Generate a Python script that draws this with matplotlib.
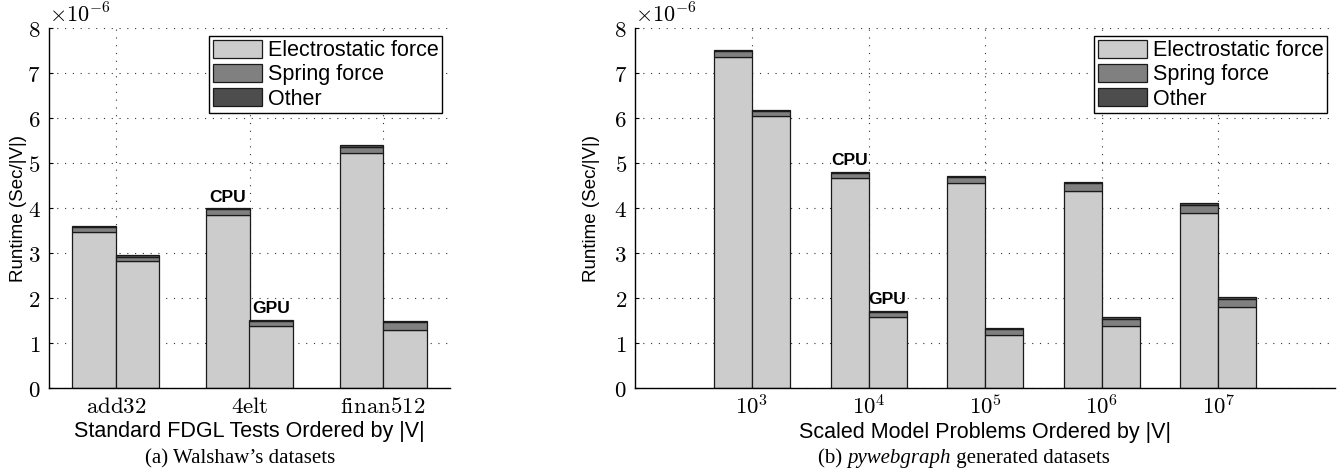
import matplotlib
matplotlib.use('Agg')
import matplotlib.pyplot as plt
from matplotlib.ticker import FuncFormatter, MultipleLocator
import numpy as np

plt.rcParams['font.family'] = 'Liberation Sans'
plt.rcParams['mathtext.fontset'] = 'cm'

# values in units of 1e-6 sec/|V|
walshaw_names = ['add32', '4elt', 'finan512']
walshaw_cpu_elec = [3.48, 3.84, 5.22]
walshaw_cpu_spring = [0.09, 0.13, 0.15]
walshaw_cpu_other = [0.03, 0.03, 0.03]
walshaw_gpu_elec = [2.82, 1.37, 1.30]
walshaw_gpu_spring = [0.10, 0.12, 0.16]
walshaw_gpu_other = [0.03, 0.03, 0.03]

model_names = ['3', '4', '5', '6', '7']
model_cpu_elec = [7.37, 4.68, 4.56, 4.38, 3.90]
model_cpu_spring = [0.12, 0.10, 0.13, 0.17, 0.18]
model_cpu_other = [0.03, 0.03, 0.03, 0.03, 0.03]
model_gpu_elec = [6.04, 1.58, 1.18, 1.37, 1.80]
model_gpu_spring = [0.11, 0.10, 0.13, 0.16, 0.19]
model_gpu_other = [0.03, 0.04, 0.03, 0.04, 0.03]

legend_labels = ['Electrostatic force', 'Spring force', 'Other']
seg_colors = ['#cccccc', '#808080', '#4d4d4d']

W = 0.326
EDGE = '#1a1a1a'
LBL = 15.5


def stacked(ax, xs, elec, spring, other):
    elec = np.array(elec)
    spring = np.array(spring)
    other = np.array(other)
    b1 = ax.bar(xs, elec, W, color=seg_colors[0], edgecolor=EDGE, linewidth=0.9, zorder=2)
    b2 = ax.bar(xs, spring, W, bottom=elec, color=seg_colors[1], edgecolor=EDGE, linewidth=0.9, zorder=2)
    b3 = ax.bar(xs, other, W, bottom=elec + spring, color=seg_colors[2], edgecolor=EDGE, linewidth=0.9, zorder=2)
    return [b1, b2, b3], elec + spring + other


def setup(ax, n, xmin, xmax):
    ax.set_xlim(xmin, xmax)
    ax.set_ylim(0, 8)
    ax.yaxis.set_major_locator(MultipleLocator(1))
    ax.yaxis.set_major_formatter(FuncFormatter(lambda v, p: '$%d$' % v))
    ax.set_xticks(np.arange(1, n + 1))
    for s in ['top', 'right']:
        ax.spines[s].set_visible(False)
    for s in ['left', 'bottom']:
        ax.spines[s].set_linewidth(1.0)
    ax.grid(True, linestyle=(0, (1, 6)), color='#333333', linewidth=0.8)
    ax.set_axisbelow(True)
    ax.tick_params(axis='y', direction='in', length=3, labelsize=16.5, pad=6)
    ax.tick_params(axis='x', direction='in', length=0, labelsize=16.5, pad=5)
    ax.text(0.0, 1.003, r'$\times10^{-6}$', transform=ax.transAxes, fontsize=16,
            ha='left', va='bottom')
    ax.set_ylabel('Runtime (Sec/|V|)', fontsize=13.5)


def add_legend(ax, bars):
    leg = ax.legend([b[0] for b in bars], legend_labels, loc='upper right', fontsize=LBL,
                    fancybox=False, edgecolor='black', framealpha=1, borderpad=0.18,
                    labelspacing=0.12, handlelength=2.3, handleheight=0.93, handletextpad=0.25,
                    borderaxespad=0.35)
    leg.get_frame().set_linewidth(1.0)


fig = plt.figure(figsize=(13.41, 4.74), dpi=100)
ax1 = fig.add_axes([49 / 1341, 1 - 388 / 474, 401 / 1341, 359.7 / 474])
ax2 = fig.add_axes([635.3 / 1341, 1 - 388 / 474, 699.7 / 1341, 359.7 / 474])

# (a) Walshaw
x = np.arange(1, len(walshaw_names) + 1)
setup(ax1, len(walshaw_names), 0.5, len(walshaw_names) + 0.5)
bars, cpu_tot = stacked(ax1, x - W / 2, walshaw_cpu_elec, walshaw_cpu_spring, walshaw_cpu_other)
_, gpu_tot = stacked(ax1, x + W / 2, walshaw_gpu_elec, walshaw_gpu_spring, walshaw_gpu_other)
ax1.set_xticklabels([r'$\mathrm{%s}$' % n for n in walshaw_names])
ax1.set_xlabel('Standard FDGL Tests Ordered by |V|', fontsize=LBL, labelpad=2)
ax1.yaxis.set_label_coords(-0.055, 0.5)
ax1.text(x[1] - W / 2, cpu_tot[1] + 0.08, 'CPU', ha='center', va='bottom', fontsize=12.5, fontweight='bold')
ax1.text(x[1] + W / 2, gpu_tot[1] + 0.08, 'GPU', ha='center', va='bottom', fontsize=12.5, fontweight='bold')
add_legend(ax1, bars)

# (b) pywebgraph
x = np.arange(1, len(model_names) + 1)
setup(ax2, len(model_names), 0, len(model_names) + 1)
bars, cpu_tot = stacked(ax2, x - W / 2, model_cpu_elec, model_cpu_spring, model_cpu_other)
_, gpu_tot = stacked(ax2, x + W / 2, model_gpu_elec, model_gpu_spring, model_gpu_other)
ax2.set_xticklabels([r'$10^{%s}$' % n for n in model_names])
ax2.set_xlabel('Scaled Model Problems Ordered by |V|', fontsize=LBL, labelpad=2)
ax2.yaxis.set_label_coords(-0.05, 0.5)
ax2.text(x[1] - W / 2, cpu_tot[1] + 0.08, 'CPU', ha='center', va='bottom', fontsize=12.5, fontweight='bold')
ax2.text(x[1] + W / 2, gpu_tot[1] + 0.08, 'GPU', ha='center', va='bottom', fontsize=12.5, fontweight='bold')
add_legend(ax2, bars)

# captions
CAP = 15
base_y = 1 - 463 / 474
fig.text(240 / 1341, base_y, "(a) Walshaw\u2019s datasets", family='Liberation Serif',
         fontsize=CAP, ha='center', va='baseline')
c1 = fig.text(818 / 1341, base_y, '(b) ', family='Liberation Serif', fontsize=CAP,
              ha='left', va='baseline')
c2 = fig.text(0, base_y, 'pywebgraph', family='Liberation Serif', style='italic', fontsize=CAP,
              ha='left', va='baseline')
c3 = fig.text(0, base_y, ' generated datasets', family='Liberation Serif', fontsize=CAP,
              ha='left', va='baseline')
fig.canvas.draw()
r = fig.canvas.get_renderer()
fig_w = fig.bbox.width
bb1 = c1.get_window_extent(r)
c2.set_x(bb1.x1 / fig_w)
fig.canvas.draw()
bb2 = c2.get_window_extent(r)
c3.set_x(bb2.x1 / fig_w)

fig.savefig('out.png', dpi=100)
